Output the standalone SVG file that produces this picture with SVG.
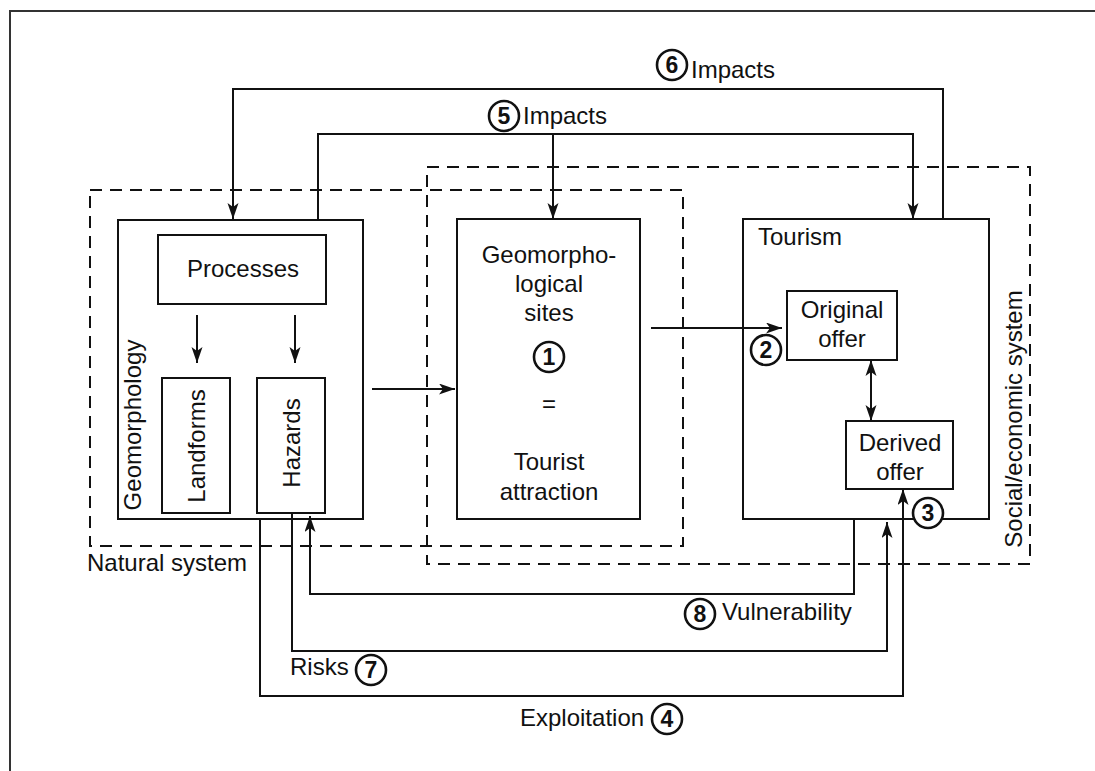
<svg xmlns="http://www.w3.org/2000/svg" width="1095" height="771" viewBox="0 0 1095 771">
<style>
text{font-family:"Liberation Sans",Arial,sans-serif;font-size:24px;fill:#111}
.box{fill:none;stroke:#111;stroke-width:2}
.dash{fill:none;stroke:#111;stroke-width:2;stroke-dasharray:12 8}
.ln{fill:none;stroke:#111;stroke-width:2}
.arr{marker-end:url(#ah)}
.num{fill:#fff;stroke:#111;stroke-width:2.6}
.nt{font-size:23px;font-weight:bold;text-anchor:middle}
.c{text-anchor:middle}
</style>
<defs>
<marker id="ah" markerUnits="userSpaceOnUse" markerWidth="17" markerHeight="12" refX="16" refY="5.5" orient="auto">
<path d="M0,0 L16,5.5 L0,11 L4,5.5 z" fill="#111"/>
</marker>
<marker id="as" markerUnits="userSpaceOnUse" markerWidth="17" markerHeight="12" refX="0" refY="5.5" orient="auto">
<path d="M16,0 L0,5.5 L16,11 L12,5.5 z" fill="#111"/>
</marker>
</defs>
<rect x="10" y="11" width="1200" height="900" fill="#fff" stroke="#333" stroke-width="2"/>

<g id="natural-system">
<rect class="dash" x="90" y="190" width="593" height="356"/>
<text x="87" y="571">Natural system</text>
</g>
<g id="social-system">
<rect class="dash" x="427" y="167" width="603" height="397"/>
<text transform="translate(1022,419) rotate(-90)" class="c">Social/economic system</text>
</g>

<g id="geomorphology">
<rect class="box" x="118" y="220" width="245" height="299"/>
<text transform="translate(141,425) rotate(-90)" class="c">Geomorphology</text>
</g>
<g id="processes">
<rect class="box" x="158" y="235" width="168" height="69"/>
<text x="243" y="277" class="c">Processes</text>
</g>
<g id="landforms">
<rect class="box" x="162" y="378" width="68" height="135"/>
<text transform="translate(205,446) rotate(-90)" class="c">Landforms</text>
</g>
<g id="hazards">
<rect class="box" x="257" y="378" width="68" height="135"/>
<text transform="translate(300,443) rotate(-90)" class="c">Hazards</text>
</g>
<g id="geosites">
<rect class="box" x="457" y="219" width="183" height="300"/>
<text x="549" y="263" class="c">Geomorpho-</text>
<text x="549" y="292" class="c">logical</text>
<text x="549" y="321" class="c">sites</text>
<circle class="num" cx="549" cy="357" r="15"/>
<text x="549" y="365" class="nt">1</text>
<text x="549" y="412" class="c">=</text>
<text x="549" y="470" class="c">Tourist</text>
<text x="549" y="500" class="c">attraction</text>
</g>
<g id="tourism">
<rect class="box" x="743" y="219" width="246" height="300"/>
<text x="758" y="245">Tourism</text>
</g>
<g id="original-offer">
<rect class="box" x="787" y="291" width="110" height="69"/>
<text x="842" y="318" class="c">Original</text>
<text x="842" y="347" class="c">offer</text>
</g>
<g id="derived-offer">
<rect class="box" x="846" y="421" width="107" height="68"/>
<text x="900" y="451" class="c">Derived</text>
<text x="900" y="480" class="c">offer</text>
</g>

<g id="connectors">
<path class="ln arr" d="M943,219 V89 H233 V219"/>
<path class="ln arr" d="M318,220 V134 H913 V219"/>
<path class="ln arr" d="M553,134 V219"/>
<path class="ln arr" d="M197,315 V363"/>
<path class="ln arr" d="M295,315 V363"/>
<path class="ln arr" d="M372,389 H455"/>
<path class="ln arr" d="M651,328 H782"/>
<path class="ln" d="M871,360 V421" marker-start="url(#as)" marker-end="url(#ah)"/>
<path class="ln arr" d="M260,519 V696 H903 V489"/>
<path class="ln arr" d="M292,513 V651 H887 V522"/>
<path class="ln arr" d="M854,519 V594 H310 V516"/>
</g>

<g id="labels">
<circle class="num" cx="672" cy="65" r="15"/>
<text x="672" y="73" class="nt">6</text>
<text x="691" y="78">Impacts</text>
<circle class="num" cx="504" cy="116" r="15"/>
<text x="504" y="124" class="nt">5</text>
<text x="523" y="124">Impacts</text>
<circle class="num" cx="766" cy="350" r="15"/>
<text x="766" y="358" class="nt">2</text>
<circle class="num" cx="928" cy="513" r="15"/>
<text x="928" y="521" class="nt">3</text>
<circle class="num" cx="700" cy="614" r="15"/>
<text x="700" y="622" class="nt">8</text>
<text x="722" y="620">Vulnerability</text>
<text x="290" y="675">Risks</text>
<circle class="num" cx="371" cy="670" r="15"/>
<text x="371" y="678" class="nt">7</text>
<text x="520" y="726">Exploitation</text>
<circle class="num" cx="667" cy="719" r="15"/>
<text x="667" y="727" class="nt">4</text>
</g>
</svg>
